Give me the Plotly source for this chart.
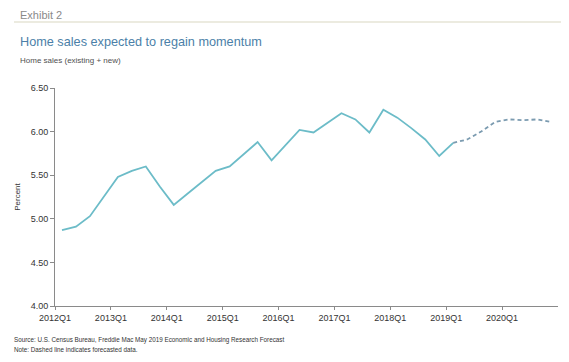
import plotly.graph_objects as go

quarters = [f"{y}Q{q}" for y in range(2012, 2021) for q in range(1, 5)]
actual_values = [4.87, 4.91, 5.03, 5.26, 5.48, 5.55, 5.60, 5.37,
                 5.16, 5.29, 5.42, 5.55, 5.60, 5.74, 5.88, 5.67,
                 5.85, 6.02, 5.99, 6.10, 6.21, 6.14, 5.99, 6.25,
                 6.16, 6.04, 5.91, 5.72, 5.87]
forecast_values = [5.87, 5.91, 6.00, 6.11, 6.14, 6.13, 6.14, 6.11]
forecast_start = 28  # index of 2019Q1
tick_labels = ["2012Q1", "2013Q1", "2014Q1", "2015Q1", "2016Q1",
               "2017Q1", "2018Q1", "2019Q1", "2020Q1"]
y_ticks = [4.00, 4.50, 5.00, 5.50, 6.00, 6.50]

x_actual = list(range(len(actual_values)))
x_fore = list(range(forecast_start, forecast_start + len(forecast_values)))
tick_pos = [quarters.index(t) - 0.5 for t in tick_labels]

# page has an 8px body margin; figure sized to fit inside the window
W, H = 553, 346
L, R, T, B = 47, 3, 80, 48
PW, PH = W - L - R, H - T - B


def px(xp):
    return (xp - 8 - L) / PW


def py(yp):
    return (H - B - (yp - 8)) / PH


fig = go.Figure()
fig.add_trace(go.Scatter(x=x_actual, y=actual_values, mode="lines",
                         line=dict(color="#6cbcc8", width=1.8),
                         hoverinfo="skip", showlegend=False))
fig.add_trace(go.Scatter(x=x_fore, y=forecast_values, mode="lines",
                         line=dict(color="#7b9bb0", width=1.8, dash="4px,3px"),
                         hoverinfo="skip", showlegend=False))

fig.update_layout(
    width=W, height=H,
    margin=dict(l=L, r=R, t=T, b=B),
    paper_bgcolor="white", plot_bgcolor="white",
    font=dict(family="Liberation Sans, Arial, sans-serif", color="#444"),
    xaxis=dict(range=[-0.5, 35.5], tickmode="array", tickvals=tick_pos,
               ticktext=tick_labels, showgrid=False, zeroline=False,
               showline=True, linecolor="#8a8a8a", linewidth=1,
               ticks="outside", ticklen=3, tickcolor="#8a8a8a",
               tickfont=dict(size=9, color="#333")),
    yaxis=dict(range=[4.0, 6.5], tickmode="array", tickvals=y_ticks,
               ticktext=[f"{v:.2f}" for v in y_ticks], showgrid=False,
               zeroline=False, showline=True, linecolor="#8a8a8a", linewidth=1,
               ticks="outside", ticklen=4, tickcolor="#8a8a8a",
               tickfont=dict(size=9, color="#333"),
               title=dict(text="Percent", font=dict(size=8, color="#333"), standoff=8)),
)

fig.add_annotation(text="Exhibit 2", xref="paper", yref="paper",
                   x=px(18), y=py(15), xanchor="left", yanchor="middle",
                   showarrow=False, font=dict(size=11, color="#8a8a8a"))
fig.add_shape(type="line", xref="paper", yref="paper",
              x0=px(14), x1=px(569), y0=py(22), y1=py(22),
              line=dict(color="#e6e4d6", width=1.5))
fig.add_annotation(text="Home sales expected to regain momentum", xref="paper", yref="paper",
                   x=px(18), y=py(42), xanchor="left", yanchor="middle",
                   showarrow=False, font=dict(size=12.7, color="#4b7fa8"))
fig.add_annotation(text="Home sales (existing + new)", xref="paper", yref="paper",
                   x=px(18), y=py(61), xanchor="left", yanchor="middle",
                   showarrow=False, font=dict(size=8, color="#505050"))
fig.add_annotation(text="Source: U.S. Census Bureau, Freddie Mac May 2019 Economic and Housing Research Forecast",
                   xref="paper", yref="paper", x=px(12), y=py(339.5),
                   xanchor="left", yanchor="middle", showarrow=False,
                   font=dict(size=6.3, color="#333"))
fig.add_annotation(text="Note: Dashed line indicates forecasted data.",
                   xref="paper", yref="paper", x=px(12), y=py(349),
                   xanchor="left", yanchor="middle", showarrow=False,
                   font=dict(size=6.3, color="#333"))

fig.write_html("out.html")
